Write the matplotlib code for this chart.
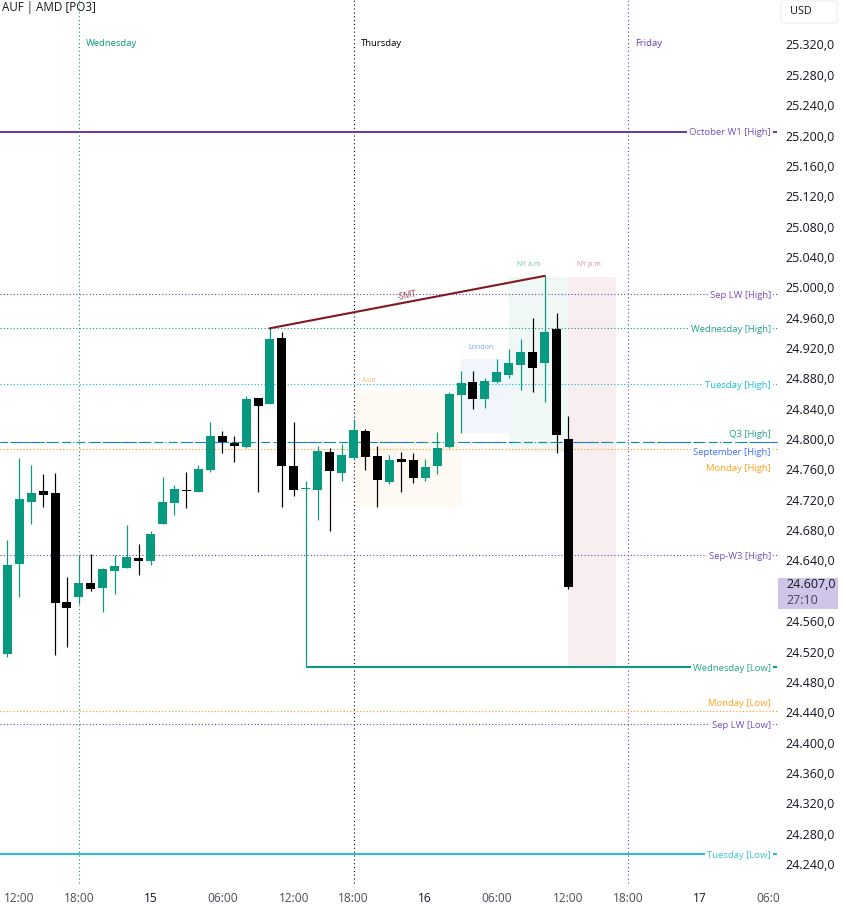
import matplotlib
matplotlib.use("Agg")
import matplotlib.pyplot as plt
from matplotlib.patches import Rectangle, FancyBboxPatch
from matplotlib.ticker import FuncFormatter
from matplotlib.transforms import Bbox

plt.rcParams['font.family'] = ['Open Sans', 'DejaVu Sans']

opens = [24517,24635,24717,24731.5,24729,24585,24592,24610,24604,24626,24630,24643,24639,24688,24716,24733,
         24730,24759,24804,24795,24789.5,24854,24846,24933,24764.5,24734,24733,24783,24755,24775,24810.6,24778,
         24743,24774,24772,24749,24764.5,24789.5,24858,24875,24853,24875,24884,24897.6,24915,24900,24945,24800]
closes = [24634,24721,24729,24726,24584,24577,24610,24602,24629,24633,24644.5,24639,24675,24717,24734,24731.5,
          24760.5,24804,24796,24791,24853,24843.5,24932,24764.5,24733,24735.5,24784,24758,24779,24812,24776,24746,
          24772,24770,24749,24763,24788,24859,24874,24853,24876.5,24888,24900,24915,24894,24941,24805,24605]
highs = [24667,24775,24766,24754,24755,24618,24647,24648.5,24630,24647,24687,24662,24679,24750,24739,24757,
         24766,24822,24810.6,24804,24857,24854,24946,24941,24822,24745,24791,24788,24793.5,24826,24813,24791,
         24779,24783,24781.6,24774,24809,24862,24890,24890,24880,24905.5,24919,24932,24960,25015,24966,24830]
lows = [24513,24592,24688,24710,24515,24526,24583,24600,24572,24596,24630,24621,24634,24688,24700,24709,
        24730,24757,24781.6,24770,24788,24730,24846,24710,24725,24499,24693,24679,24745,24772,24759,24710,
        24741,24730,24742,24745,24754,24788,24808,24840,24841,24874,24880,24865,24862,24849,24781.6,24602]

level_names = ["October W1 [High]","Sep LW [High]","Wednesday [High]","Tuesday [High]","Q3 [High]",
               "September [High]","Monday [High]","Sep-W3 [High]","Wednesday [Low]","Monday [Low]",
               "Sep LW [Low]","Tuesday [Low]"]
level_prices = [25205,24990.5,24945.7,24872,24796,24796,24787,24647,24499,24441.6,24424,24253]
label_prices = [25205,24990.5,24945.7,24872,24807,24784,24762,24647,24499,24453.4,24424,24253]
level_colors = ["#673ab7","#673ab7","#089981","#00bcd4","#089981","#2962ff","#ff9800","#673ab7","#089981",
                "#ff9800","#673ab7","#22c0d0"]
level_starts = [-0.62,-0.62,-0.62,-0.62,-0.62,-0.62,-0.62,-0.62,25,-0.62,-0.62,-0.62]
level_styles = ["solid","dot","dot","dot","dash","dashdot","dot","dot","solid","dot","dot","solid"]

session_names = ["Asia","London","NY a.m","NY p.m"]
session_x0 = [29,38,42,47]
session_x1 = [38,42,47,51]
session_top = [24861,24905,25013,25013]
session_bot = [24711,24808,24783,24499]
session_fill = ["#fef9f2","#f1f6fe","#eff8f5","#f8eef0"]
session_text = ["#f7b968","#7fa3f5","#6fc0ab","#d08f97"]
session_label_x = [30.3,39.7,43.7,48.7]
session_label_y = [24877,24921,25030,25030]

day_names = ["Wednesday","Thursday","Friday"]
day_x = [6,29,52]
day_colors = ["#089981","#000000","#673ab7"]

x_ticks = [1,6,12,18,24,29,35,41,47,52,58,64]
x_labels = ["12:00","18:00","15","06:00","12:00","18:00","16","06:00","12:00","18:00","17","06:00"]
y_ticks = [24240,24280,24320,24360,24400,24440,24480,24520,24560,24640,24680,24720,24760,24800,
           24840,24880,24920,24960,25000,25040,25080,25120,25160,25200,25240,25280,25320]

W, H = 842, 911
fig = plt.figure(figsize=(W/100, H/100), dpi=100, facecolor="white")
ax = fig.add_axes([0, 26/H, 779/W, 885/H])
ax.set_xlim(-0.61, 64.63)
ax.set_ylim(24212.3, 25378.6)
for s in ax.spines.values():
    s.set_visible(False)

px = 0.72
for x0, x1, t, b, c in zip(session_x0, session_x1, session_top, session_bot, session_fill):
    ax.add_patch(Rectangle((x0, b), x1-x0, t-b, fc=c, ec="none", zorder=1))

for d, c in zip(day_x, day_colors):
    ax.axvline(d, ymin=0.002, color=c, lw=px*1.1, ls=(0, (1, 2.5)), zorder=2, snap=True)

for p, c, st, ls, n in zip(level_prices, level_colors, level_starts, level_styles, level_names):
    style = {"solid": "-", "dot": (0, (1, 2)), "dashdot": (0, (7, 3, 1, 3)), "dash": (3, (7, 5))}[ls]
    lw = 2*px if ls == "solid" else px*1.1
    ax.plot([st, 64.5], [p, p], color=c, lw=lw, ls=style, zorder=2.2 if ls == "dash" else 2,
            solid_capstyle="butt", snap=True)

for n, p, c in zip(level_names, label_prices, level_colors):
    ax.annotate(n, (63.96, p), xytext=(0, -0.8), textcoords="offset points", color=c, fontsize=6.8,
                ha="right", va="center", zorder=3, alpha=0.9,
                bbox=dict(fc="white", ec="none", pad=1.5))

up, down = "#089981", "#000000"
for i, (o, h, l, c) in enumerate(zip(opens, highs, lows, closes)):
    col = up if c >= o else down
    ax.plot([i, i], [l, h], color=col, lw=px*1.2, zorder=4, solid_capstyle="butt", snap=True)
    ax.bar(i, max(abs(c-o), 1.3), bottom=min(o, c), width=0.754, color=col, lw=0, zorder=5)

ax.plot([22, 45], [24946, 25015], color="#801922", lw=1.5, zorder=6)
ax.text(33.5, 24989, "-SMT", color="#801922", fontsize=6.2, rotation=11, ha="center", va="center", zorder=6, alpha=0.8)

for n, x, y, c in zip(session_names, session_label_x, session_label_y, session_text):
    ax.text(x, y, n, color=c, fontsize=5, ha="center", va="center", zorder=6)

for d, n, c in zip(day_x, day_names, day_colors):
    ax.annotate(n, (d, 25320), xytext=(5.0, 0.5), textcoords="offset points", color=c,
                fontsize=6.8, ha="left", va="center", zorder=6)

ax.yaxis.tick_right()
ax.set_yticks(y_ticks)
ax.yaxis.set_major_formatter(FuncFormatter(lambda v, _: f"{int(v):,}".replace(",", ".") + ",0"))
ax.tick_params(axis="y", length=0, pad=4.6, labelsize=9, labelcolor="#131722")
ax.set_xticks(x_ticks)
ax.set_xticklabels(x_labels)
ax.tick_params(axis="x", length=0, pad=5.0, labelsize=8.6, labelcolor="#4a4d55")
clip = Bbox([[0, 0], [779, H]])
for lab, txt in zip(ax.get_xticklabels(), x_labels):
    lab.set_clip_box(clip)
    lab.set_clip_on(True)
    if len(txt) == 2:
        lab.set_color("#131722")

def fx(x): return x/W
def fy(y): return 1 - y/H

fig.text(fx(2), fy(8), "AUF | AMD [PO3]", fontsize=8.4, color="#131722", ha="left", va="center")
fig.patches.append(FancyBboxPatch((fx(781), fy(23)), 56/W, 22/H, boxstyle="round,pad=0,rounding_size=0.004",
                                  transform=fig.transFigure, fc="white", ec="#eeeeee", lw=0.8))
fig.text(fx(790), fy(12), "USD", fontsize=7.8, color="#131722", ha="left", va="center")
fig.patches.append(Rectangle((fx(778), fy(609)), 60/W, 31/H, transform=fig.transFigure, fc="#d1c4e9", ec="none"))
fig.text(fx(786), fy(585), "24.607,0", fontsize=9, color="#131722", ha="left", va="center")
fig.text(fx(786), fy(600.5), "27:10", fontsize=9, color="#4a4358", ha="left", va="center")

fig.savefig("out.png", dpi=100)
